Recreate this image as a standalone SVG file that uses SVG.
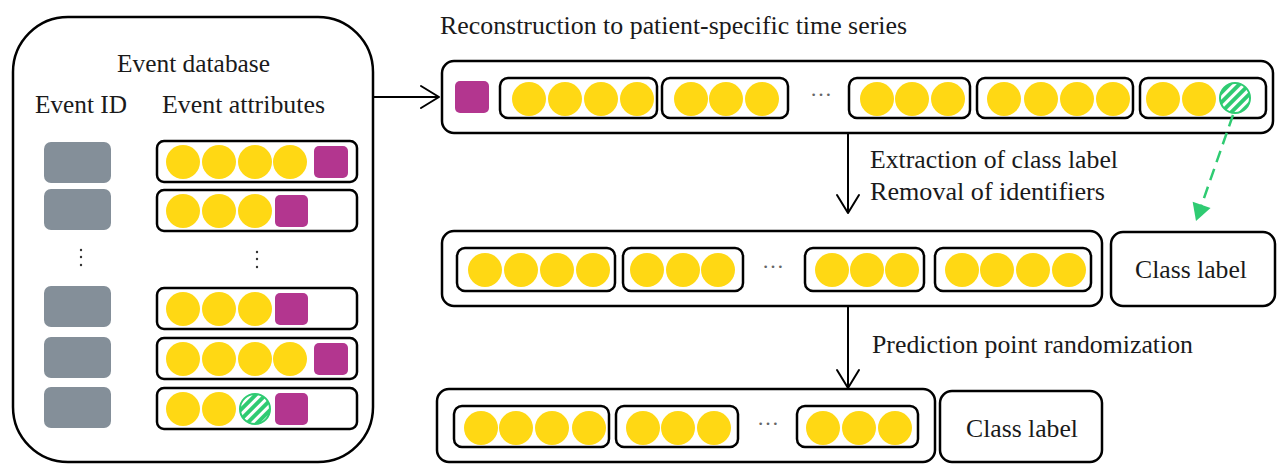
<svg xmlns="http://www.w3.org/2000/svg" width="1278" height="464" viewBox="0 0 1278 464">
<style>
.box{fill:none;stroke:#000;stroke-width:2.5}
.big{fill:#fff;stroke:#000;stroke-width:2.5}
.y{fill:#FFD814}
.p{fill:#B3368F}
.gr{fill:#848F99}
.hz{fill:url(#hatch);stroke:#2FCB72;stroke-width:2}
.t{font-family:"Liberation Serif","Times New Roman",serif;font-size:25px;fill:#1a1a1a}
.el{font-family:"Liberation Serif","Times New Roman",serif;font-size:22px;fill:#666;text-anchor:middle}
.dot{fill:#333}
.conn{stroke:#000;stroke-width:2;fill:none}
</style>
<defs>
<pattern id="hatch" patternUnits="userSpaceOnUse" width="7" height="7" patternTransform="rotate(45)">
<rect width="7" height="7" fill="#2FCB72"/>
<rect x="0" width="3" height="7" fill="#fff"/>
</pattern>
<marker id="arrow" markerUnits="userSpaceOnUse" markerWidth="24" markerHeight="28" viewBox="-21 -14 24 28" refX="0" refY="0" orient="auto">
<path d="M-18,-11 L0,0 L-18,11" fill="none" stroke="#000" stroke-width="2" stroke-linecap="round" stroke-linejoin="round"/>
</marker>
<marker id="garrow" markerUnits="userSpaceOnUse" markerWidth="24" markerHeight="24" viewBox="-20 -12 24 24" refX="0" refY="0" orient="auto">
<path d="M-17,-9.5 L0,0 L-17,9.5 Z" fill="#2FCB72"/>
</marker>
</defs>
<rect width="1278" height="464" fill="#fff"/>

<g id="event-database">
<rect class="big" x="13" y="17" width="360" height="445" rx="55"/>
<text class="t" x="117" y="72" textLength="153" lengthAdjust="spacingAndGlyphs">Event database</text>
<text class="t" x="35" y="113" textLength="92" lengthAdjust="spacingAndGlyphs">Event ID</text>
<text class="t" x="162" y="113" textLength="163" lengthAdjust="spacingAndGlyphs">Event attributes</text>
<g id="event-ids">
<rect class="gr" x="44" y="142" width="67" height="41" rx="7"/>
<rect class="gr" x="44" y="189" width="67" height="41" rx="7"/>
<rect class="gr" x="44" y="286" width="67" height="41" rx="7"/>
<rect class="gr" x="44" y="337" width="67" height="41" rx="7"/>
<rect class="gr" x="44" y="387" width="67" height="41" rx="7"/>
<circle class="dot" cx="81" cy="250" r="1.2"/>
<circle class="dot" cx="81" cy="257" r="1.2"/>
<circle class="dot" cx="81" cy="265" r="1.2"/>
</g>
<g id="event-row-1">
<rect class="box" x="157" y="141" width="200" height="41" rx="7"/>
<circle class="y" cx="183" cy="162" r="17"/><circle class="y" cx="219" cy="162" r="17"/><circle class="y" cx="255" cy="162" r="17"/><circle class="y" cx="290" cy="162" r="17"/>
<rect class="p" x="314" y="146" width="34" height="32" rx="5"/>
</g>
<g id="event-row-2">
<rect class="box" x="157" y="190" width="200" height="41" rx="7"/>
<circle class="y" cx="183" cy="211" r="17"/><circle class="y" cx="219" cy="211" r="17"/><circle class="y" cx="255" cy="211" r="17"/>
<rect class="p" x="275" y="195" width="33" height="32" rx="5"/>
</g>
<g id="event-dots">
<circle class="dot" cx="257" cy="252" r="1.2"/>
<circle class="dot" cx="257" cy="259" r="1.2"/>
<circle class="dot" cx="257" cy="267" r="1.2"/>
</g>
<g id="event-row-3">
<rect class="box" x="157" y="288" width="200" height="41" rx="7"/>
<circle class="y" cx="183" cy="309" r="17"/><circle class="y" cx="219" cy="309" r="17"/><circle class="y" cx="255" cy="309" r="17"/>
<rect class="p" x="275" y="293" width="33" height="32" rx="5"/>
</g>
<g id="event-row-4">
<rect class="box" x="157" y="338" width="200" height="41" rx="7"/>
<circle class="y" cx="183" cy="359" r="17"/><circle class="y" cx="219" cy="359" r="17"/><circle class="y" cx="255" cy="359" r="17"/><circle class="y" cx="290" cy="359" r="17"/>
<rect class="p" x="314" y="343" width="34" height="32" rx="5"/>
</g>
<g id="event-row-5">
<rect class="box" x="157" y="388" width="200" height="41" rx="7"/>
<circle class="y" cx="183" cy="409" r="17"/><circle class="y" cx="219" cy="409" r="17"/>
<circle class="hz" cx="255" cy="409" r="15"/>
<rect class="p" x="275" y="393" width="33" height="32" rx="5"/>
</g>
</g>

<g id="title">
<text class="t" x="440" y="34" textLength="467" lengthAdjust="spacingAndGlyphs">Reconstruction to patient-specific time series</text>
</g>

<g id="patient-series">
<rect class="big" x="442" y="61" width="831" height="72" rx="12"/>
<rect class="p" x="455" y="81" width="34" height="32" rx="5"/>
<rect class="box" x="500" y="78" width="157" height="40" rx="8"/>
<circle class="y" cx="529" cy="99" r="17"/><circle class="y" cx="565" cy="99" r="17"/><circle class="y" cx="601" cy="99" r="17"/><circle class="y" cx="637" cy="99" r="17"/>
<rect class="box" x="662" y="78" width="126" height="40" rx="8"/>
<circle class="y" cx="691" cy="99" r="17"/><circle class="y" cx="726" cy="99" r="17"/><circle class="y" cx="762" cy="99" r="17"/>
<text class="el" x="821" y="96">…</text>
<rect class="box" x="849" y="78" width="121" height="40" rx="8"/>
<circle class="y" cx="877" cy="99" r="17"/><circle class="y" cx="912" cy="99" r="17"/><circle class="y" cx="948" cy="99" r="17"/>
<rect class="box" x="977" y="78" width="156" height="40" rx="8"/>
<circle class="y" cx="1004" cy="99" r="17"/><circle class="y" cx="1041" cy="99" r="17"/><circle class="y" cx="1077" cy="99" r="17"/><circle class="y" cx="1113" cy="99" r="17"/>
<rect class="box" x="1140" y="78" width="126" height="40" rx="8"/>
<circle class="y" cx="1163" cy="99" r="17"/><circle class="y" cx="1199" cy="99" r="17"/>
<circle class="hz" cx="1235" cy="98" r="15"/>
</g>

<g id="step-labels">
<text class="t" x="870" y="168" textLength="248" lengthAdjust="spacingAndGlyphs">Extraction of class label</text>
<text class="t" x="870" y="200" textLength="235" lengthAdjust="spacingAndGlyphs">Removal of identifiers</text>
<text class="t" x="872" y="353" textLength="321" lengthAdjust="spacingAndGlyphs">Prediction point randomization</text>
</g>

<g id="stripped-series">
<rect class="big" x="442" y="231" width="660" height="75" rx="12"/>
<rect class="box" x="457" y="248" width="158" height="43" rx="8"/>
<circle class="y" cx="485" cy="270" r="17"/><circle class="y" cx="521" cy="270" r="17"/><circle class="y" cx="557" cy="270" r="17"/><circle class="y" cx="593" cy="270" r="17"/>
<rect class="box" x="623" y="248" width="120" height="43" rx="8"/>
<circle class="y" cx="647" cy="270" r="17"/><circle class="y" cx="683" cy="270" r="17"/><circle class="y" cx="718" cy="270" r="17"/>
<text class="el" x="773" y="268">…</text>
<rect class="box" x="805" y="248" width="119" height="43" rx="8"/>
<circle class="y" cx="832" cy="270" r="17"/><circle class="y" cx="867" cy="270" r="17"/><circle class="y" cx="902" cy="270" r="17"/>
<rect class="box" x="935" y="248" width="156" height="43" rx="8"/>
<circle class="y" cx="962" cy="270" r="17"/><circle class="y" cx="997" cy="270" r="17"/><circle class="y" cx="1033" cy="270" r="17"/><circle class="y" cx="1069" cy="270" r="17"/>
</g>

<g id="class-label-1">
<rect class="big" x="1111" y="232" width="164" height="74" rx="12"/>
<text class="t" x="1135" y="278" textLength="112" lengthAdjust="spacingAndGlyphs">Class label</text>
</g>

<g id="randomized-series">
<rect class="big" x="437" y="389" width="498" height="73" rx="12"/>
<rect class="box" x="454" y="406" width="155" height="41" rx="8"/>
<circle class="y" cx="481" cy="428" r="17"/><circle class="y" cx="516" cy="428" r="17"/><circle class="y" cx="552" cy="428" r="17"/><circle class="y" cx="589" cy="428" r="17"/>
<rect class="box" x="616" y="406" width="122" height="41" rx="8"/>
<circle class="y" cx="643" cy="428" r="17"/><circle class="y" cx="678" cy="428" r="17"/><circle class="y" cx="714" cy="428" r="17"/>
<text class="el" x="768" y="425">…</text>
<rect class="box" x="797" y="406" width="121" height="41" rx="8"/>
<circle class="y" cx="823" cy="428" r="17"/><circle class="y" cx="859" cy="428" r="17"/><circle class="y" cx="895" cy="428" r="17"/>
</g>

<g id="class-label-2">
<rect class="big" x="940" y="391" width="162" height="71" rx="12"/>
<text class="t" x="966" y="437" textLength="112" lengthAdjust="spacingAndGlyphs">Class label</text>
</g>

<g id="connectors">
<line class="conn" x1="374" y1="97" x2="439" y2="97" marker-end="url(#arrow)"/>
<line class="conn" x1="848" y1="134" x2="848" y2="213" marker-end="url(#arrow)"/>
<line class="conn" x1="848" y1="307" x2="848" y2="388" marker-end="url(#arrow)"/>
<line x1="1233" y1="115" x2="1196" y2="221" stroke="#2FCB72" stroke-width="2.5" stroke-dasharray="12 7" marker-end="url(#garrow)"/>
</g>
</svg>
